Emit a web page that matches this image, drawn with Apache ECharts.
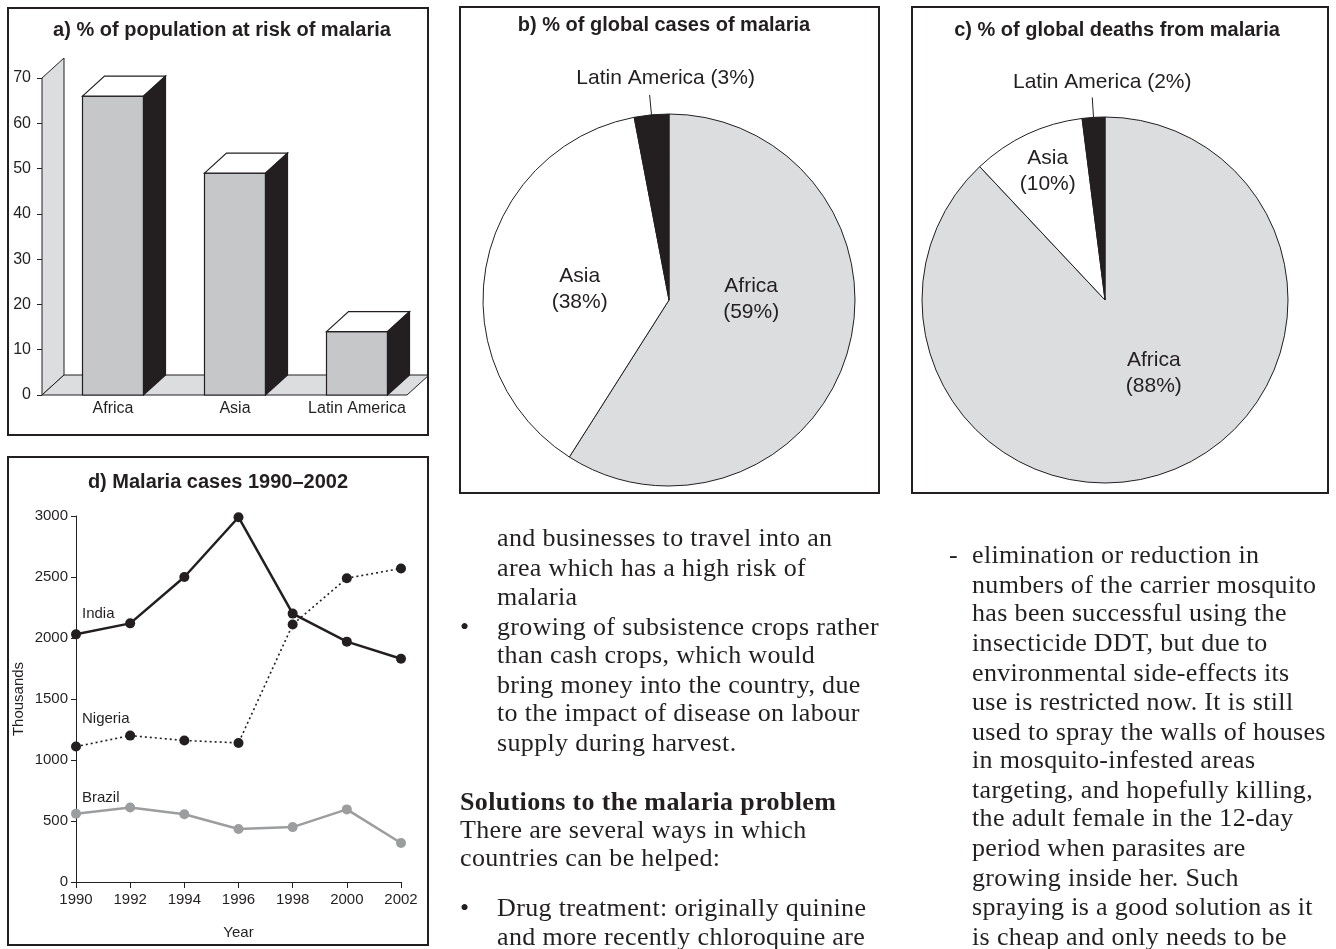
<!DOCTYPE html>
<html><head><meta charset="utf-8">
<script src="https://cdn.jsdelivr.net/npm/echarts@6/dist/echarts.min.js"></script>
<style>
html,body{margin:0;padding:0;background:#fff;}
#chart{position:absolute;left:0;top:0;width:1336px;height:949px;}
.t{position:absolute;font-family:"Liberation Serif","Times New Roman",serif;font-size:26px;letter-spacing:0.35px;color:#231f20;white-space:nowrap;line-height:30px;height:30px;}
.b{font-weight:bold;}
</style></head><body>
<div id="chart"></div>
<div id="text"></div>
<script>
// ---------- data ----------
const riskCategories = ['Africa', 'Asia', 'Latin America'];
const riskValues = [66, 49, 14];
const riskAxisMin = 0, riskAxisMax = 70, riskAxisStep = 10;

const casesRegions = ['Africa', 'Asia', 'Latin America'];
const casesShares = [59, 38, 3];

const deathsRegions = ['Africa', 'Asia', 'Latin America'];
const deathsShares = [88, 10, 2];

const years = [1990, 1992, 1994, 1996, 1998, 2000, 2002];
const indiaCases = [2030, 2120, 2500, 2990, 2200, 1970, 1830];
const nigeriaCases = [1110, 1200, 1160, 1140, 2110, 2490, 2570];
const brazilCases = [560, 610, 555, 435, 450, 595, 320];
const casesAxisMin = 0, casesAxisMax = 3000, casesAxisStep = 500;
const yearAxisMin = 1990, yearAxisMax = 2002, yearAxisStep = 2;

const leftColumn = [
  ['', 'and businesses to travel into an', 538],
  ['', 'area which has a high risk of', 568],
  ['', 'malaria', 597],
  ['•', 'growing of subsistence crops rather', 627],
  ['', 'than cash crops, which would', 655],
  ['', 'bring money into the country, due', 685],
  ['', 'to the impact of disease on labour', 713],
  ['', 'supply during harvest.', 743]
];
const leftPlain = [
  ['Solutions to the malaria problem', 802, true],
  ['There are several ways in which', 830, false],
  ['countries can be helped:', 858, false]
];
const leftColumn2 = [
  ['•', 'Drug treatment: originally quinine', 908],
  ['', 'and more recently chloroquine are', 937]
];
const rightColumn = [
  ['-', 'elimination or reduction in', 555],
  ['', 'numbers of the carrier mosquito', 585],
  ['', 'has been successful using the', 613],
  ['', 'insecticide DDT, but due to', 643],
  ['', 'environmental side-effects its', 673],
  ['', 'use is restricted now. It is still', 702],
  ['', 'used to spray the walls of houses', 732],
  ['', 'in mosquito-infested areas', 760],
  ['', 'targeting, and hopefully killing,', 790],
  ['', 'the adult female in the 12-day', 818],
  ['', 'period when parasites are', 848],
  ['', 'growing inside her. Such', 878],
  ['', 'spraying is a good solution as it', 907],
  ['', 'is cheap and only needs to be', 937]
];

// ---------- body text ----------
(function () {
  const host = document.getElementById('text');
  function line(text, x, cy, bold) {
    const d = document.createElement('div');
    d.className = 't' + (bold ? ' b' : '');
    d.style.left = x + 'px';
    d.style.top = (cy - 15) + 'px';
    d.textContent = text;
    host.appendChild(d);
  }
  leftColumn.concat(leftColumn2).forEach(r => { if (r[0]) line(r[0], 460, r[2]); line(r[1], 497, r[2]); });
  leftPlain.forEach(r => line(r[0], 460, r[1], r[2]));
  rightColumn.forEach(r => { if (r[0]) line(r[0], 949, r[2]); line(r[1], 972, r[2]); });
})();

// ---------- chart ----------
const INK = '#231f20';
const WALL = '#dcdddf';
const BARFRONT = '#c6c7c9';
const PIEGRAY = '#dcdddf';
const BRAZIL = '#9c9d9f';
const SANS = '"Liberation Sans", Arial, Helvetica, sans-serif';
const DX = 22, DY = -20, AXIS_OFFSET = 10;

const chart = echarts.init(document.getElementById('chart'), null, {renderer: 'canvas'});

function box(x, y, w, h) {
  return {type: 'rect', shape: {x: x, y: y, width: w, height: h},
    style: {fill: 'none', stroke: INK, lineWidth: 2}, z: 10, silent: true};
}
function heading(text, x, y) {
  return {type: 'text', x: x, y: y, z: 10, silent: true,
    style: {text: text, font: 'bold 20px ' + SANS, fill: INK, align: 'center', verticalAlign: 'middle'}};
}

const pieBShift = [[-10, -28], [5, 7], [21, -4]];
const pieCShift = [[14, -15], [-17, -43], [15, -2]];

function pieData(names, values) {
  return names.map((n, i) => {
    const item = {name: n, value: values[i],
      itemStyle: {color: i === 0 ? PIEGRAY : (i === 1 ? '#ffffff' : INK)}};
    if (i === 2) {
      item.label = {position: 'outside'};
      item.labelLine = {show: true, length: 20, length2: 0, lineStyle: {color: INK, width: 1}};
    }
    return item;
  });
}
function pieLayout(shift) {
  return function (p) {
    const s = shift[p.dataIndex];
    if (p.dataIndex === 2) return {align: 'center', verticalAlign: 'bottom', dx: s[0], dy: s[1]};
    return {dx: s[0], dy: s[1]};
  };
}
function pieSeries(names, values, center, radius, shift) {
  return {
    type: 'pie', center: center, radius: radius, startAngle: 90, clockwise: true,
    avoidLabelOverlap: false, silent: true, animation: false,
    itemStyle: {borderColor: INK, borderWidth: 1},
    label: {show: true, position: 'inside', color: INK, fontFamily: SANS, fontSize: 21, lineHeight: 26,
      formatter: p => p.dataIndex === 2 ? p.name + ' (' + p.value + '%)' : p.name + '\n(' + p.value + '%)'},
    labelLine: {show: false},
    labelLayout: pieLayout(shift),
    emphasis: {disabled: true},
    data: pieData(names, values)
  };
}

function firstLabel(text, offset) {
  return {show: true, formatter: text, position: 'top', align: 'left', offset: offset,
    color: INK, fontFamily: SANS, fontSize: 15};
}
function lineData(values, label, offset) {
  return years.map((y, i) => i === 0 ? {value: [y, values[i]], label: firstLabel(label, offset)} : [y, values[i]]);
}

const option = {
  animation: false,
  backgroundColor: '#ffffff',
  textStyle: {fontFamily: SANS, color: INK},
  graphic: [
    box(8, 8, 420, 427),
    box(460, 7, 419, 486),
    box(912, 7, 416, 486),
    box(8, 457, 420, 488),
    heading('a) % of population at risk of malaria', 222, 30),
    heading('b) % of global cases of malaria', 664, 25),
    heading('c) % of global deaths from malaria', 1117, 30),
    heading('d) Malaria cases 1990\u20132002', 218, 482)
  ],
  grid: [
    {left: 52, top: 78, width: 366, height: 317, outerBoundsMode: 'none', containLabel: false},
    {left: 76, top: 516, width: 325, height: 366, outerBoundsMode: 'none', containLabel: false}
  ],
  xAxis: [
    {gridIndex: 0, type: 'category', data: riskCategories,
      axisLine: {show: false}, axisTick: {show: false}, splitLine: {show: false},
      axisLabel: {color: INK, fontFamily: SANS, fontSize: 16, margin: 6, interval: 0, hideOverlap: false}},
    {gridIndex: 1, type: 'value', min: yearAxisMin, max: yearAxisMax, interval: yearAxisStep,
      name: 'Year', nameLocation: 'middle', nameGap: 43,
      nameTextStyle: {color: INK, fontFamily: SANS, fontSize: 15},
      axisLine: {show: true, lineStyle: {color: INK, width: 1}},
      axisTick: {show: true, length: 6, lineStyle: {color: INK}},
      splitLine: {show: false},
      axisLabel: {color: INK, fontFamily: SANS, fontSize: 15, margin: 10, formatter: v => String(v)}}
  ],
  yAxis: [
    {gridIndex: 0, type: 'value', min: riskAxisMin, max: riskAxisMax, interval: riskAxisStep,
      offset: AXIS_OFFSET,
      axisLine: {show: false}, axisTick: {show: true, length: 5, lineStyle: {color: INK}},
      splitLine: {show: false},
      axisLabel: {color: INK, fontFamily: SANS, fontSize: 16, margin: 11}},
    {gridIndex: 1, type: 'value', min: casesAxisMin, max: casesAxisMax, interval: casesAxisStep,
      name: 'Thousands', nameLocation: 'middle', nameGap: 50, nameRotate: 90,
      nameTextStyle: {color: INK, fontFamily: SANS, fontSize: 15},
      axisLine: {show: true, lineStyle: {color: INK, width: 1}},
      axisTick: {show: true, length: 5, lineStyle: {color: INK}},
      splitLine: {show: false},
      axisLabel: {color: INK, fontFamily: SANS, fontSize: 15, margin: 8, formatter: v => String(v)}}
  ],
  series: [
    // back wall and floor of the 3-D bar chart
    {type: 'custom', xAxisIndex: 0, yAxisIndex: 0, z: 1, clip: false, silent: true,
      data: [[0, riskAxisMin]],
      renderItem: function (params, api) {
        const cs = params.coordSys;
        const x0 = cs.x - AXIS_OFFSET;
        const yb = api.coord([0, riskAxisMin])[1];
        const yt = api.coord([0, riskAxisMax])[1];
        const xr = cs.x + cs.width - 11;
        const st = {fill: WALL, stroke: INK, lineWidth: 1};
        return {type: 'group', children: [
          {type: 'polygon', shape: {points: [[x0, yb], [x0, yt], [x0 + DX, yt + DY], [x0 + DX, yb + DY]]}, style: st},
          {type: 'polygon', shape: {points: [[x0, yb], [x0 + DX, yb + DY], [xr + DX, yb + DY], [xr, yb]]}, style: st}
        ]};
      }},
    // 3-D bars
    {type: 'custom', xAxisIndex: 0, yAxisIndex: 0, z: 2, clip: false, silent: true,
      data: riskValues.map((v, i) => [i, v]),
      renderItem: function (params, api) {
        const c = api.value(0), v = api.value(1);
        const top = api.coord([c, v]);
        const base = api.coord([c, riskAxisMin]);
        const w = api.size([1, 0])[0] * 0.5;
        const x0 = top[0] - w / 2, x1 = top[0] + w / 2;
        const ty = top[1], by = base[1];
        const ln = {stroke: INK, lineWidth: 1.2};
        return {type: 'group', children: [
          {type: 'rect', shape: {x: x0, y: ty, width: w, height: by - ty}, style: Object.assign({fill: BARFRONT}, ln)},
          {type: 'polygon', shape: {points: [[x0, ty], [x0 + DX, ty + DY], [x1 + DX, ty + DY], [x1, ty]]}, style: Object.assign({fill: '#ffffff'}, ln)},
          {type: 'polygon', shape: {points: [[x1, ty], [x1 + DX, ty + DY], [x1 + DX, by + DY], [x1, by]]}, style: Object.assign({fill: INK}, ln)}
        ]};
      }},
    pieSeries(casesRegions, casesShares, [669, 300], 186, pieBShift),
    pieSeries(deathsRegions, deathsShares, [1105, 300], 183, pieCShift),
    {type: 'line', name: 'India', xAxisIndex: 1, yAxisIndex: 1, z: 4,
      symbol: 'circle', symbolSize: 10, silent: true,
      lineStyle: {color: INK, width: 2.5}, itemStyle: {color: INK},
      data: lineData(indiaCases, 'India', [6, -3])},
    {type: 'line', name: 'Nigeria', xAxisIndex: 1, yAxisIndex: 1, z: 3,
      symbol: 'circle', symbolSize: 10, silent: true,
      lineStyle: {color: INK, width: 1.6, type: [2, 3]}, itemStyle: {color: INK},
      data: lineData(nigeriaCases, 'Nigeria', [6, -10])},
    {type: 'line', name: 'Brazil', xAxisIndex: 1, yAxisIndex: 1, z: 3,
      symbol: 'circle', symbolSize: 10, silent: true,
      lineStyle: {color: BRAZIL, width: 2.5}, itemStyle: {color: BRAZIL},
      data: lineData(brazilCases, 'Brazil', [6, 2])}
  ]
};
chart.setOption(option);
</script>
</body></html>
